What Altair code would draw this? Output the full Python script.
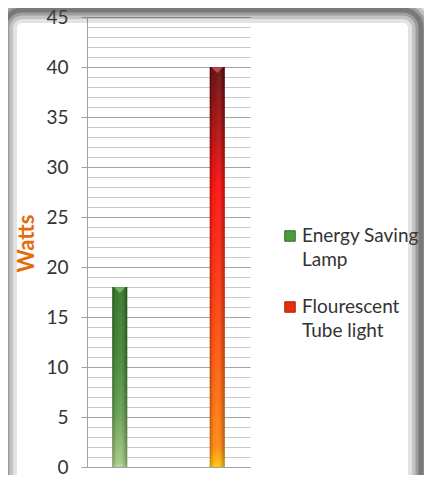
import altair as alt
import pandas as pd

# ---- data ----
categories = ["Energy Saving Lamp", "Flourescent Tube light"]
watts = [18, 40]
legend_labels = ["Energy Saving\nLamp", "Flourescent\nTube light"]
y_values = list(range(0, 46))

# ---- styles ----
bar_gradients = [
    [("#2a6e1f", 0.0), ("#347d27", 0.35), ("#5c9a45", 0.7), ("#9cc47a", 0.97), ("#b5d496", 1.0)],
    [("#5a0000", 0.0), ("#a80000", 0.15), ("#ff0000", 0.3), ("#ff2a00", 0.55),
     ("#ff5500", 0.75), ("#ff8200", 0.95), ("#ffc400", 1.0)],
]
cap_colors = ["#7dbb63", "#c4505a"]
legend_colors = ["#4f9a3f", "#e5300f"]
legend_strokes = ["#2f6e25", "#b02000"]

FONT = "Lato"
W, H = 163, 450

df = pd.DataFrame({"lamp": categories, "watts": watts, "legend": legend_labels})

x_scale = alt.Scale(domain=categories, paddingInner=0.846, paddingOuter=0.259)
y_scale = alt.Scale(domain=[0, 45], nice=False, zero=True)
x_enc = alt.X("lamp:N", scale=x_scale, axis=None)

major = "datum.value % 5 === 0"
y_axis = alt.Axis(
    values=y_values,
    labelExpr=f"{major} ? datum.label : ''",
    labelOverlap=False,
    grid=True,
    gridColor={"condition": {"test": major, "value": "#a2a2a2"}, "value": "#c8c8c8"},
    gridWidth=1.2,
    tickOpacity={"condition": {"test": major, "value": 1}, "value": 0},
    tickColor="#a2a2a2",
    tickSize=6,
    domainColor="#a2a2a2",
    labelFont=FONT,
    labelFontSize=19,
    labelColor="#333333",
    labelPadding=13,
    title="Watts",
    titleFont=FONT,
    titleFontSize=22,
    titleFontWeight="bold",
    titleColor="#e46c0a",
    titleAngle=-90,
    titleX=-61,
    titleY=226,
    titleAlign="center",
    titleBaseline="middle",
)


def grad(stops, horizontal=False):
    return alt.LinearGradient(
        gradient="linear",
        stops=[alt.GradientStop(color=c, offset=o) for c, o in stops],
        x1=0, y1=0,
        x2=1 if horizontal else 0,
        y2=0 if horizontal else 1,
    )


layers = []
for i, cat in enumerate(categories):
    sub = alt.Chart(df).transform_filter(alt.datum.lamp == cat)
    layers.append(
        sub.mark_bar(color=grad(bar_gradients[i])).encode(
            x=x_enc, y=alt.Y("watts:Q", scale=y_scale, axis=y_axis)
        )
    )

# cylinder shading overlay
shade = alt.Chart(df).mark_bar(
    color=grad([("rgba(0,0,0,0.28)", 0.0), ("rgba(255,255,255,0.08)", 0.35),
                ("rgba(255,255,255,0.12)", 0.55), ("rgba(0,0,0,0.3)", 1.0)], horizontal=True)
).encode(x=x_enc, y=alt.Y("watts:Q", scale=y_scale, axis=y_axis))
layers.append(shade)

for i, cat in enumerate(categories):
    cap = (
        alt.Chart(df)
        .transform_filter(alt.datum.lamp == cat)
        .transform_calculate(cap="datum.watts - 0.25")
        .mark_point(shape="M -1 -0.4 L 1 -0.4 L 0 0.6 Z", size=130, filled=True,
                    opacity=0.9, color=cap_colors[i])
        .encode(x=x_enc, y=alt.Y("cap:Q", scale=y_scale, axis=y_axis))
    )
    layers.append(cap)

# legend (drawn from the category list)
LEG_SYM_X, LEG_TXT_X = 203, 215
LEG_Y0, LEG_STEP = 225, 71
for i, cat in enumerate(categories):
    sub = alt.Chart(df).transform_filter(alt.datum.lamp == cat)
    yb = LEG_Y0 + i * LEG_STEP
    layers.append(
        sub.mark_square(size=110, color=legend_colors[i], stroke=legend_strokes[i],
                        strokeWidth=1, opacity=1).encode(
            x=alt.value(LEG_SYM_X), y=alt.value(yb - 6)
        )
    )
    layers.append(
        sub.mark_text(align="left", baseline="alphabetic", lineBreak="\n", lineHeight=24,
                      font=FONT, fontSize=19, color="#333333").encode(
            x=alt.value(LEG_TXT_X), y=alt.value(yb), text="legend:N"
        )
    )

# shadowed frame around the chart area
frame_df = pd.DataFrame({"frame": [0]})
for sw, op in [(26, 0.15), (18, 0.2), (11, 0.3), (5, 0.4)]:
    layers.append(
        alt.Chart(frame_df).mark_rect(fill="transparent", stroke="#444444", strokeWidth=sw,
                                      strokeOpacity=op, cornerRadius=18).encode(
            x=alt.value(-83), x2=alt.value(334), y=alt.value(-7), y2=alt.value(480)
        )
    )

chart = (
    alt.layer(*layers)
    .properties(
        width=W,
        height=H,
        autosize=alt.AutoSizeParams(type="none"),
        padding={"left": 79, "top": 9, "right": 174, "bottom": 8},
        background="white",
    )
    .configure_view(stroke=None)
)

chart.save("out.html", embed_options={"renderer": "svg", "actions": False})
